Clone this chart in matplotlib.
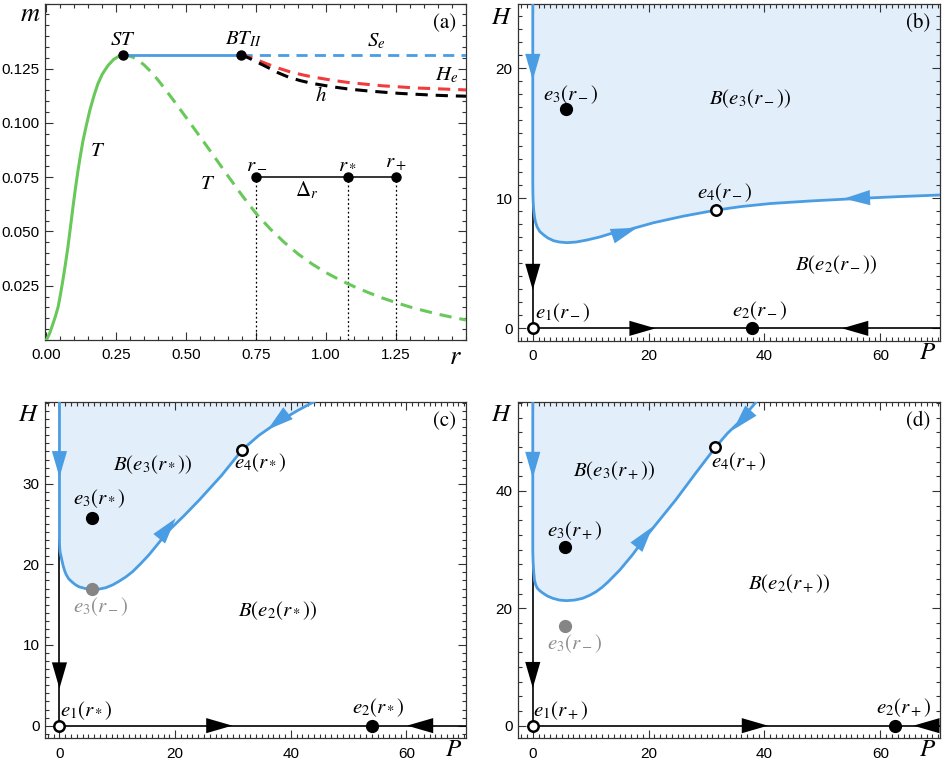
import numpy as np
import matplotlib
matplotlib.use('Agg')
import matplotlib.pyplot as plt
from matplotlib.patches import FancyArrowPatch
from matplotlib.ticker import MultipleLocator, FixedLocator, FormatStrFormatter

plt.rcParams['mathtext.fontset'] = 'stix'
plt.rcParams['font.family'] = ['Liberation Sans', 'DejaVu Sans']

# ---------------- colours ----------------
GREEN = '#68c95a'
BLUE = '#4a9de3'
RED = '#f03c3c'
FILL = '#e2eefa'
GRAY = '#858585'

# ---------------- panel (a) data ----------------
T_up_r = [0.0, 0.012, 0.024, 0.033, 0.042, 0.05, 0.059, 0.068, 0.077, 0.086, 0.095, 0.104,
          0.113, 0.122, 0.131, 0.143, 0.155, 0.17, 0.184, 0.20, 0.22, 0.24, 0.26, 0.274]
T_up_m = [0.0, 0.0032, 0.0077, 0.0112, 0.0153, 0.0208, 0.0276, 0.0350, 0.0429, 0.0520, 0.0613, 0.0700,
          0.0781, 0.0853, 0.0919, 0.0990, 0.1057, 0.1125, 0.1180, 0.1225, 0.1264, 0.1292, 0.1308, 0.1314]
T_down_r = [0.274, 0.29, 0.31, 0.33, 0.35, 0.375, 0.40, 0.45, 0.50, 0.55, 0.60, 0.65, 0.70, 0.75,
            0.80, 0.85, 0.90, 0.95, 1.0, 1.05, 1.10, 1.15, 1.20, 1.25, 1.30, 1.35, 1.40, 1.45, 1.5]
T_down_m = [0.1314, 0.1311, 0.1302, 0.1287, 0.1266, 0.1234, 0.1196, 0.1112, 0.1024, 0.0935, 0.0845,
            0.0754, 0.0665, 0.0582, 0.0512, 0.0450, 0.0396, 0.0350, 0.0310, 0.0276, 0.0246, 0.0219,
            0.0194, 0.0172, 0.0152, 0.0135, 0.0119, 0.0105, 0.0092]
Se_r_solid = [0.274, 0.694]
Se_r_dash = [0.694, 1.5]
Se_m = 0.1314
He_r = [0.694, 0.72, 0.75, 0.786, 0.83, 0.869, 0.91, 0.95, 1.024, 1.08, 1.143, 1.2, 1.262, 1.32, 1.38, 1.44, 1.5]
He_m = [0.1314, 0.1305, 0.1292, 0.1273, 0.1252, 0.1236, 0.1223, 0.1212, 0.1196, 0.1186, 0.1178,
        0.1171, 0.1166, 0.1161, 0.1158, 0.1155, 0.1152]
h_r = [0.694, 0.72, 0.75, 0.786, 0.83, 0.869, 0.91, 0.95, 1.024, 1.08, 1.143, 1.2, 1.262, 1.32, 1.38, 1.44, 1.5]
h_m = [0.1314, 0.1301, 0.1282, 0.1259, 0.1230, 0.1209, 0.1194, 0.1182, 0.1166, 0.1156, 0.1148,
       0.1142, 0.1136, 0.1132, 0.1128, 0.1125, 0.1123]
ST_pt = (0.274, 0.1314)
BT_pt = (0.694, 0.1314)
r_vals = [0.75, 1.077, 1.25]
r_names = [r'$r_-$', r'$r_*$', r'$r_+$']
m_level = 0.075

# ---------------- panel (b) data (r_-) ----------------
b_sepP = [0.0, 0.0, 0.01, 0.03, 0.06, 0.11, 0.18, 0.29, 0.45, 0.75, 1.2, 1.9, 2.6, 3.6, 4.6, 5.9,
          7.5, 9.4, 11.5, 13.4, 16.3, 20.9, 26.1, 31.7, 36.0, 41.0, 48.0, 56.6, 63.0, 70.4]
b_sepH = [24.95, 11.3, 10.7, 10.2, 9.8, 9.4, 9.0, 8.6, 8.2, 7.8, 7.45, 7.18, 6.95, 6.74, 6.64, 6.59,
          6.64, 6.8, 7.02, 7.28, 7.56, 8.13, 8.64, 9.1, 9.37, 9.6, 9.8, 10.0, 10.13, 10.26]
b_e1 = (0.0, 0.0); b_e2 = (37.8, 0.0); b_e3 = (5.8, 16.9); b_e4 = (31.7, 9.1)
b_black_top = 10.5

# ---------------- panel (c) data (r_*) ----------------
c_sepP = [0.0, 0.0, 0.03, 0.08, 0.17, 0.29, 0.45, 0.65, 0.9, 1.15, 1.6, 2.2, 2.8, 3.45, 4.5, 5.64,
          6.9, 8.0, 9.2, 10.3, 11.5, 12.66, 14.0, 15.5, 17.1, 18.7, 21.5, 24.2, 28.0, 31.6, 34.5, 37.7, 41.0, 44.0]
c_sepH = [40.17, 22.8, 22.2, 21.7, 21.3, 20.95, 20.4, 19.8, 19.2, 18.75, 18.2, 17.8, 17.45, 17.2, 17.0, 16.9,
          16.94, 17.1, 17.45, 17.9, 18.45, 19.1, 20.05, 21.2, 22.6, 24.05, 26.0, 28.0, 31.0, 34.2, 36.0, 37.6, 39.0, 40.17]
c_e1 = (0.0, 0.0); c_e2 = (54.0, 0.0); c_e3 = (5.64, 25.7); c_e4 = (31.6, 34.2); c_e3m = (5.64, 16.94)
c_black_top = 23.0

# ---------------- panel (d) data (r_+) ----------------
d_sepP = [0.0, 0.0, 0.05, 0.15, 0.29, 0.5, 0.8, 1.2, 1.73, 2.5, 3.46, 4.6, 5.76, 7.2, 8.6, 9.8, 10.9,
          12.0, 13.0, 14.0, 15.0, 17.2, 19.3, 22.0, 24.7, 28.1, 31.5, 33.6, 35.7, 38.6]
d_sepH = [55.2, 29.9, 28.0, 26.3, 24.8, 24.0, 23.4, 23.0, 22.6, 22.1, 21.7, 21.4, 21.3, 21.4, 21.7, 22.2, 22.8,
          23.6, 24.5, 25.5, 26.5, 29.1, 31.9, 35.2, 38.5, 43.0, 47.4, 49.8, 51.8, 55.2]
d_e1 = (0.0, 0.0); d_e2 = (62.6, 0.0); d_e3 = (5.58, 30.4); d_e4 = (31.5, 47.4); d_e3m = (5.58, 17.0)
d_black_top = 28.0

P_lim = (-2.5, 70.3)


def style_ticks(ax, maj=6, mnr=3):
    ax.tick_params(which='both', direction='in', top=True, right=True,
                   colors='#333333', labelcolor='black', width=0.8)
    ax.tick_params(which='major', length=maj, labelsize=11)
    ax.tick_params(which='minor', length=mnr)
    ax.tick_params(axis='x', which='major', pad=6)
    ax.tick_params(axis='y', which='major', pad=4)
    for s in ax.spines.values():
        s.set_linewidth(0.9)
        s.set_color('#333333')


def arrow(ax, tail, tip, color):
    a = FancyArrowPatch(posA=tail, posB=tip,
                        arrowstyle='-|>,head_length=1.45,head_width=0.42',
                        mutation_scale=13, color=color, lw=0,
                        shrinkA=0, shrinkB=0, zorder=6)
    ax.add_patch(a)


fig = plt.figure(figsize=(9.45, 7.62), dpi=100)
W, H = 945.0, 762.0

# ================= panel (a) =================
ax = fig.add_axes([45 / W, (H - 340) / H, 421 / W, 336.5 / H])
ax.set_xlim(-0.005, 1.5)
ax.set_ylim(0, 0.155)
ax.plot(T_up_r, T_up_m, color=GREEN, lw=2.2, zorder=3)
ax.plot(T_down_r, T_down_m, color=GREEN, lw=2.2, dashes=(4, 2.6), zorder=3)
ax.plot(Se_r_solid, [Se_m, Se_m], color=BLUE, lw=2.0, zorder=3)
ax.plot(Se_r_dash, [Se_m, Se_m], color=BLUE, lw=2.0, dashes=(4, 2.6), zorder=3)
ax.plot(He_r, He_m, color=RED, lw=2.2, dashes=(4, 2.6), zorder=3)
ax.plot(h_r, h_m, color='black', lw=2.2, dashes=(4, 2.6), zorder=3)
ax.plot([ST_pt[0], BT_pt[0]], [ST_pt[1], BT_pt[1]], 'o', color='black', ms=6.5, zorder=5)
ax.plot([r_vals[0], r_vals[-1]], [m_level, m_level], color='black', lw=1.1, zorder=4)
ax.plot(r_vals, [m_level] * 3, 'o', color='black', ms=6.5, zorder=5)
for rv, nm in zip(r_vals, r_names):
    ax.plot([rv, rv], [0, m_level], color='black', lw=0.9, ls=(0, (1.5, 2)), zorder=2)
    ax.text(rv, m_level + 0.0062, nm, ha='center', va='center', fontsize=15)
ax.text(0.93, 0.0692, r'$\Delta_r$', ha='center', va='center', fontsize=15)
ax.text(ST_pt[0], 0.1385, r'$ST$', ha='center', va='center', fontsize=15)
ax.text(BT_pt[0] + 0.01, 0.1385, r'$BT_{II}$', ha='center', va='center', fontsize=15)
ax.text(1.18, 0.1375, r'$S_e$', ha='center', va='center', fontsize=15)
ax.text(1.43, 0.1222, r'$H_e$', ha='center', va='center', fontsize=15)
ax.text(0.982, 0.1127, r'$h$', ha='center', va='center', fontsize=15)
ax.text(0.184, 0.0875, r'$T$', ha='center', va='center', fontsize=15)
ax.text(0.577, 0.072, r'$T$', ha='center', va='center', fontsize=15)
ax.text(0.95, 0.94, '(a)', transform=ax.transAxes, ha='center', va='center',
        fontsize=15, family='STIXGeneral')
ax.text(-0.036, 0.968, r'$m$', transform=ax.transAxes, ha='center', va='center', fontsize=19)
ax.text(0.974, -0.05, r'$r$', transform=ax.transAxes, ha='center', va='center', fontsize=19)
ax.xaxis.set_major_locator(FixedLocator([0, 0.25, 0.5, 0.75, 1.0, 1.25]))
ax.xaxis.set_major_formatter(FormatStrFormatter('%.2f'))
ax.xaxis.set_minor_locator(MultipleLocator(0.05))
ax.yaxis.set_major_locator(FixedLocator([0.025, 0.05, 0.075, 0.1, 0.125]))
ax.yaxis.set_major_formatter(FormatStrFormatter('%.3f'))
ax.yaxis.set_minor_locator(MultipleLocator(0.005))
style_ticks(ax)


def phase_panel(rect, ylim, sepP, sepH, e1, e2, e3, e4, black_top, ymaj, ymin,
                arrows_blue, arrows_black, labels, tag, e3m=None):
    ax = fig.add_axes(rect)
    ax.set_xlim(*P_lim)
    ax.set_ylim(*ylim)
    if sepP[-1] >= P_lim[1] - 0.5:
        fx = list(sepP) + [P_lim[1], P_lim[1], sepP[0]]
        fy = list(sepH) + [sepH[-1], ylim[1], ylim[1]]
    else:
        fx, fy = list(sepP), list(sepH)
    ax.fill(fx, fy, color=FILL, lw=0, zorder=1)
    ax.plot([0, 0], [0, black_top], color='black', lw=1.2, zorder=3)
    ax.plot([0, P_lim[1]], [0, 0], color='black', lw=1.2, zorder=3)
    ax.plot(sepP, sepH, color=BLUE, lw=2.0, zorder=4, solid_joinstyle='round')
    for tail, tip in arrows_blue:
        arrow(ax, tail, tip, BLUE)
    for tail, tip in arrows_black:
        arrow(ax, tail, tip, 'black')
    ax.plot(*e2, 'o', color='black', ms=8.5, zorder=7)
    ax.plot(*e3, 'o', color='black', ms=8.5, zorder=7)
    if e3m is not None:
        ax.plot(*e3m, 'o', color=GRAY, ms=8.5, zorder=7)
    for e in (e1, e4):
        ax.plot(*e, 'o', mfc='white', mec='black', mew=1.8, ms=7.5, zorder=7)
    for (x, y, s, c) in labels:
        ax.text(x, y, s, ha='center', va='center', fontsize=15, color=c, zorder=8)
    ax.text(0.949, 0.942, tag, transform=ax.transAxes, ha='center', va='center',
            fontsize=15, family='STIXGeneral')
    ax.text(-0.039, 0.962, r'$H$', transform=ax.transAxes, ha='center', va='center', fontsize=18)
    ax.text(0.971, -0.033, r'$P$', transform=ax.transAxes, ha='center', va='center', fontsize=18)
    ax.xaxis.set_major_locator(FixedLocator([0, 20, 40, 60]))
    ax.xaxis.set_minor_locator(MultipleLocator(1))
    ax.yaxis.set_major_locator(FixedLocator(ymaj))
    ax.yaxis.set_minor_locator(MultipleLocator(ymin))
    style_ticks(ax)
    return ax


# ================= panel (b) =================
phase_panel([518.3 / W, (H - 340.7) / H, 421.7 / W, 336.7 / H], (-0.95, 24.95),
            b_sepP, b_sepH, b_e1, b_e2, b_e3, b_e4, b_black_top, [0, 10, 20], 1,
            [((0, 20.7), (0, 19.1)), ((14.3, 7.18), (18.0, 7.74)), ((57.9, 10.05), (53.7, 9.98))],
            [((0, 4.6), (0, 2.95)), ((17.2, 0), (21.2, 0)), ((57.9, 0), (53.4, 0))],
            [(6.6, 18.0, r'$e_3(r_-)$', 'black'),
             (37.6, 17.7, r'$B(e_3(r_-))$', 'black'),
             (33.2, 10.45, r'$e_4(r_-)$', 'black'),
             (52.3, 4.9, r'$B(e_2(r_-))$', 'black'),
             (5.1, 1.2, r'$e_1(r_-)$', 'black'),
             (39.2, 1.35, r'$e_2(r_-)$', 'black')],
            '(b)')

# ================= panel (c) =================
phase_panel([45 / W, (H - 738.3) / H, 421 / W, 336.6 / H], (-1.57, 40.17),
            c_sepP, c_sepH, c_e1, c_e2, c_e3, c_e4, c_black_top, [0, 10, 20, 30], 1,
            [((0, 33.3), (0, 30.8)), ((17.5, 23.4), (20.1, 25.7)), ((39.1, 38.5), (36.0, 36.7))],
            [((0, 7.3), (0, 4.6)), ((25.9, 0), (29.9, 0)), ((64.4, 0), (60.1, 0))],
            [(16.1, 32.4, r'$B(e_3(r_*))$', 'black'),
             (6.9, 28.1, r'$e_3(r_*)$', 'black'),
             (7.2, 14.8, r'$e_3(r_-)$', '#8f8f8f'),
             (34.8, 32.6, r'$e_4(r_*)$', 'black'),
             (37.7, 14.3, r'$B(e_2(r_*))$', 'black'),
             (4.6, 1.8, r'$e_1(r_*)$', 'black'),
             (55.2, 2.2, r'$e_2(r_*)$', 'black')],
            '(c)', e3m=c_e3m)

# ================= panel (d) =================
phase_panel([518.3 / W, (H - 738.3) / H, 421.7 / W, 336.6 / H], (-2.15, 55.2),
            d_sepP, d_sepH, d_e1, d_e2, d_e3, d_e4, d_black_top, [0, 20, 40], 2.5,
            [((0, 45.9), (0, 42.2)), ((18.2, 30.8), (20.7, 33.9)), ((37.2, 53.2), (34.6, 50.4))],
            [((0, 10.1), (0, 6.4)), ((36.6, 0), (40.6, 0)), ((69.5, 0), (65.7, 0))],
            [(14.0, 43.4, r'$B(e_3(r_+))$', 'black'),
             (7.2, 33.2, r'$e_3(r_+)$', 'black'),
             (7.3, 14.0, r'$e_3(r_-)$', '#8f8f8f'),
             (35.5, 45.0, r'$e_4(r_+)$', 'black'),
             (44.2, 24.2, r'$B(e_2(r_+))$', 'black'),
             (4.9, 2.5, r'$e_1(r_+)$', 'black'),
             (64.0, 3.0, r'$e_2(r_+)$', 'black')],
            '(d)', e3m=d_e3m)

fig.savefig('out.png', dpi=100)
